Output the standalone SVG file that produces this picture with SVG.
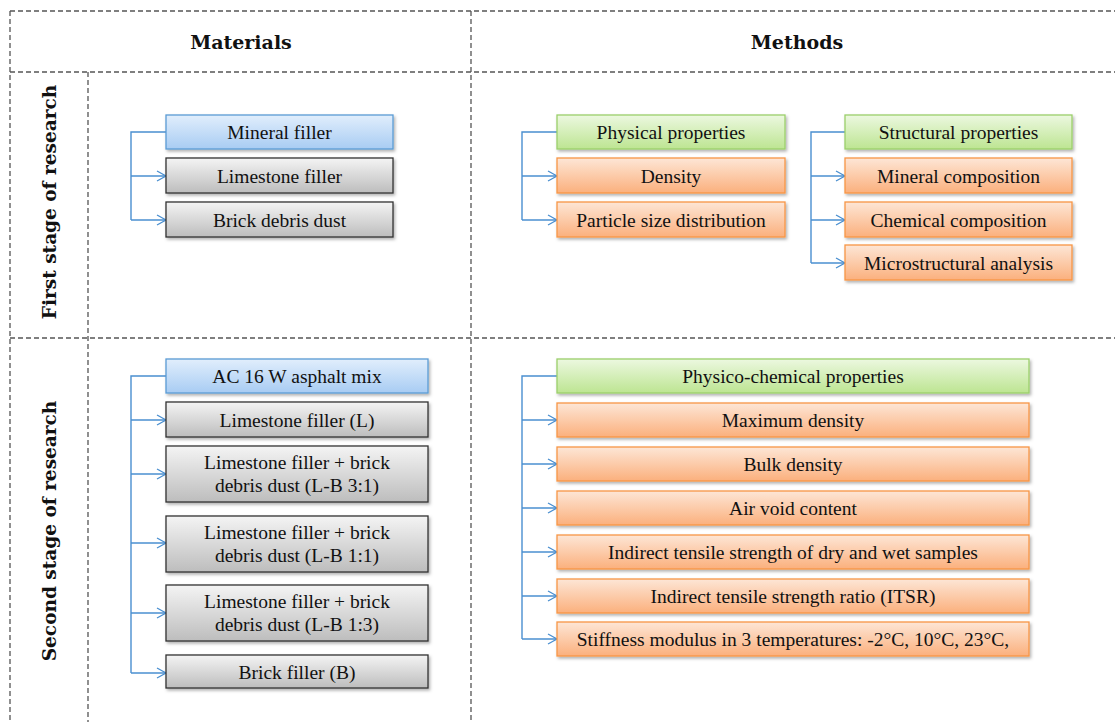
<svg xmlns="http://www.w3.org/2000/svg" width="1115" height="722" viewBox="0 0 1115 722">
<style>
.grid{stroke:#555;stroke-width:1.3;stroke-dasharray:5,3;fill:none}
.hdr{font-family:"DejaVu Serif","Liberation Serif",serif;font-weight:bold;font-size:19px;fill:#111;text-anchor:middle}
.side{font-family:"DejaVu Serif","Liberation Serif",serif;font-weight:bold;font-size:18.5px;fill:#111;text-anchor:middle}
.t{font-family:"Liberation Serif",serif;font-size:19.5px;fill:#111;text-anchor:middle}
.blue{fill:url(#gBlue);stroke:#5b9bd5;stroke-width:1.3;filter:url(#sh)}
.gray{fill:url(#gGray);stroke:#333;stroke-width:1.3;filter:url(#sh)}
.green{fill:url(#gGreen);stroke:#9bcf6a;stroke-width:1.3;filter:url(#sh)}
.orange{fill:url(#gOrange);stroke:#f79646;stroke-width:1.3;filter:url(#sh)}
.c{stroke:#4a8fd0;stroke-width:1.4;fill:none}
.a{stroke:#4a8fd0;stroke-width:1.4;fill:none;marker-end:url(#arr)}
</style>
<defs>
<linearGradient id="gBlue" x1="0" y1="0" x2="0" y2="1"><stop offset="0" stop-color="#e1eefc"/><stop offset="1" stop-color="#a8ccf3"/></linearGradient>
<linearGradient id="gGray" x1="0" y1="0" x2="0" y2="1"><stop offset="0" stop-color="#f4f4f4"/><stop offset="1" stop-color="#bdbdbd"/></linearGradient>
<linearGradient id="gGreen" x1="0" y1="0" x2="0" y2="1"><stop offset="0" stop-color="#ecf8e0"/><stop offset="1" stop-color="#bde592"/></linearGradient>
<linearGradient id="gOrange" x1="0" y1="0" x2="0" y2="1"><stop offset="0" stop-color="#fde6d6"/><stop offset="1" stop-color="#fbb07d"/></linearGradient>
<filter id="sh" x="-5%" y="-20%" width="110%" height="150%"><feDropShadow dx="1.5" dy="2" stdDeviation="1.5" flood-color="#000" flood-opacity="0.3"/></filter>
<marker id="arr" markerWidth="12" markerHeight="12" refX="10" refY="6" orient="auto" markerUnits="userSpaceOnUse"><path d="M1,1 L10,6 L1,11" fill="none" stroke="#4a8fd0" stroke-width="1.3"/></marker>
</defs>

<g id="grid">
<line class="grid" x1="10" y1="11" x2="1115" y2="11"/>
<line class="grid" x1="10" y1="72" x2="1115" y2="72"/>
<line class="grid" x1="10" y1="338" x2="1115" y2="338"/>
<line class="grid" x1="10" y1="11" x2="10" y2="722"/>
<line class="grid" x1="88" y1="72" x2="88" y2="722"/>
<line class="grid" x1="471" y1="11" x2="471" y2="722"/>
</g>

<g id="headers">
<text class="hdr" x="241" y="49">Materials</text>
<text class="hdr" x="797" y="49">Methods</text>
<text class="side" transform="translate(56,202) rotate(-90)">First stage of research</text>
<text class="side" transform="translate(56,531) rotate(-90)">Second stage of research</text>
</g>

<g id="connectors">
<path class="c" d="M166,132 H131 V220"/>
<path class="a" d="M131,176 H166"/>
<path class="a" d="M131,220 H166"/>
<path class="c" d="M557,132 H522 V220"/>
<path class="a" d="M522,176 H557"/>
<path class="a" d="M522,220 H557"/>
<path class="c" d="M845,132 H811 V263"/>
<path class="a" d="M811,176 H845"/>
<path class="a" d="M811,220 H845"/>
<path class="a" d="M811,263 H845"/>
<path class="c" d="M166,376 H131 V673"/>
<path class="a" d="M131,420 H166"/>
<path class="a" d="M131,474 H166"/>
<path class="a" d="M131,543 H166"/>
<path class="a" d="M131,613 H166"/>
<path class="a" d="M131,673 H166"/>
<path class="c" d="M557,376 H522 V639"/>
<path class="a" d="M522,420 H557"/>
<path class="a" d="M522,464 H557"/>
<path class="a" d="M522,508 H557"/>
<path class="a" d="M522,552 H557"/>
<path class="a" d="M522,596 H557"/>
<path class="a" d="M522,639 H557"/>
</g>

<g id="n-mineral"><rect class="blue" x="166" y="115" width="227" height="34"/><text class="t" x="279.5" y="138.5">Mineral filler</text></g>
<g id="n-limestone1"><rect class="gray" x="166" y="158" width="227" height="35"/><text class="t" x="279.5" y="182.5">Limestone filler</text></g>
<g id="n-brick1"><rect class="gray" x="166" y="202" width="227" height="35"/><text class="t" x="279.5" y="226.5">Brick debris dust</text></g>

<g id="n-physical"><rect class="green" x="557" y="115" width="228" height="34"/><text class="t" x="671" y="138.5">Physical properties</text></g>
<g id="n-density"><rect class="orange" x="557" y="158" width="228" height="35"/><text class="t" x="671" y="182.5">Density</text></g>
<g id="n-psd"><rect class="orange" x="557" y="202" width="228" height="35"/><text class="t" x="671" y="226.5">Particle size distribution</text></g>

<g id="n-structural"><rect class="green" x="845" y="115" width="227" height="34"/><text class="t" x="958.5" y="138.5">Structural properties</text></g>
<g id="n-mineralcomp"><rect class="orange" x="845" y="158" width="227" height="35"/><text class="t" x="958.5" y="182.5">Mineral composition</text></g>
<g id="n-chemcomp"><rect class="orange" x="845" y="202" width="227" height="35"/><text class="t" x="958.5" y="226.5">Chemical composition</text></g>
<g id="n-micro"><rect class="orange" x="845" y="245" width="227" height="35"/><text class="t" x="958.5" y="269.5">Microstructural analysis</text></g>

<g id="n-ac16"><rect class="blue" x="166" y="359" width="262" height="34"/><text class="t" x="297" y="382.5">AC 16 W asphalt mix</text></g>
<g id="n-limestoneL"><rect class="gray" x="166" y="402" width="262" height="35"/><text class="t" x="297" y="426.5">Limestone filler (L)</text></g>
<g id="n-lb31"><rect class="gray" x="166" y="446" width="262" height="56"/><text class="t" x="297" y="469">Limestone filler +  brick</text><text class="t" x="297" y="492">debris dust (L-B 3:1)</text></g>
<g id="n-lb11"><rect class="gray" x="166" y="516" width="262" height="56"/><text class="t" x="297" y="539">Limestone filler +  brick</text><text class="t" x="297" y="562">debris dust (L-B 1:1)</text></g>
<g id="n-lb13"><rect class="gray" x="166" y="585" width="262" height="56"/><text class="t" x="297" y="608">Limestone filler +  brick</text><text class="t" x="297" y="631">debris dust (L-B 1:3)</text></g>
<g id="n-brickB"><rect class="gray" x="166" y="655" width="262" height="33"/><text class="t" x="297" y="678.5">Brick filler (B)</text></g>

<g id="n-physchem"><rect class="green" x="557" y="359" width="472" height="34"/><text class="t" x="793" y="382.5">Physico-chemical properties</text></g>
<g id="n-maxdens"><rect class="orange" x="557" y="403" width="472" height="34"/><text class="t" x="793" y="426.5">Maximum density</text></g>
<g id="n-bulk"><rect class="orange" x="557" y="447" width="472" height="34"/><text class="t" x="793" y="470.5">Bulk density</text></g>
<g id="n-air"><rect class="orange" x="557" y="491" width="472" height="34"/><text class="t" x="793" y="514.5">Air void content</text></g>
<g id="n-its"><rect class="orange" x="557" y="535" width="472" height="34"/><text class="t" x="793" y="558.5">Indirect tensile strength of dry and wet samples</text></g>
<g id="n-itsr"><rect class="orange" x="557" y="579" width="472" height="34"/><text class="t" x="793" y="602.5">Indirect tensile strength ratio (ITSR)</text></g>
<g id="n-stiff"><rect class="orange" x="557" y="622" width="472" height="34"/><text class="t" x="793" y="645.5">Stiffness modulus in 3 temperatures: -2°C, 10°C, 23°C,</text></g>
</svg>
